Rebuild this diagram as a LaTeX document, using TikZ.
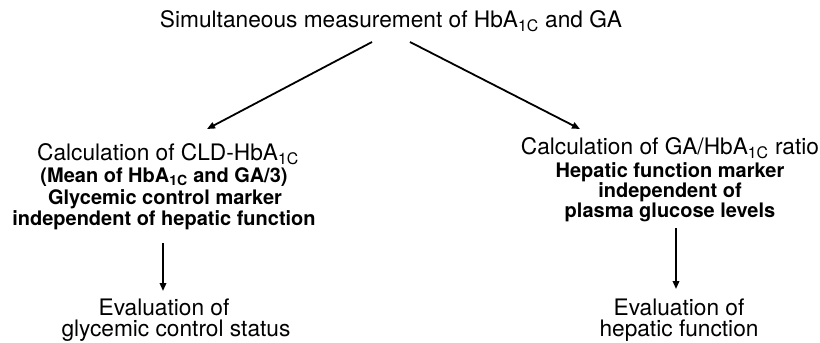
\documentclass[tikz,border=0pt]{standalone}
\usepackage{fontspec}
\setmainfont{TeX Gyre Heros}
\usetikzlibrary{arrows.meta}
\begin{document}
\begin{tikzpicture}[x=1pt,y=-1pt,
  reg/.style={font=\fontsize{22.7}{26}\selectfont, inner sep=0pt, anchor=base},
  bld/.style={font=\fontsize{20}{22}\selectfont\bfseries, inner sep=0pt, anchor=base},
  arr/.style={line width=1.8pt, -{Triangle[length=8pt,width=6.5pt]}}]
\useasboundingbox (0,0) rectangle (820,343);
% top
\node[reg] (title) at (391,27) {Simultaneous measurement of HbA\textsubscript{1C} and GA};
% left column
\node[reg] (lcalc) at (168,160) {Calculation of CLD-HbA\textsubscript{1C}};
\node[bld] (lb1) at (164,182) {(Mean of HbA\textsubscript{1C} and GA/3)};
\node[bld] (lb2) at (165,204) {Glycemic control marker};
\node[bld] (lb3) at (164,225) {independent of hepatic function};
\node[reg] (le1) at (164,315) {Evaluation of};
\node[reg] (le2) at (176,336) {glycemic control status};
% right column
\node[reg] (rcalc) at (670,154) {Calculation of GA/HbA\textsubscript{1C} ratio};
\node[bld] (rb1) at (670,177) {Hepatic function marker};
\node[bld] (rb2) at (670,197) {independent of};
\node[bld] (rb3) at (670,217) {plasma glucose levels};
\node[reg] (re1) at (679,315) {Evaluation of};
\node[reg] (re2) at (679,336) {hepatic function};
% connector ends
\coordinate (tL) at (372,42);
\coordinate (tR) at (410,42);
\coordinate (cL) at (207,129);
\coordinate (cR) at (580,129);
\coordinate (vL1) at (163,243);
\coordinate (vL2) at (163,291);
\coordinate (vR1) at (676,228);
\coordinate (vR2) at (676,289);
\draw[arr] (tL) -- (cL);
\draw[arr] (tR) -- (cR);
\draw[arr] (vL1) -- (vL2);
\draw[arr] (vR1) -- (vR2);
\end{tikzpicture}
\end{document}
